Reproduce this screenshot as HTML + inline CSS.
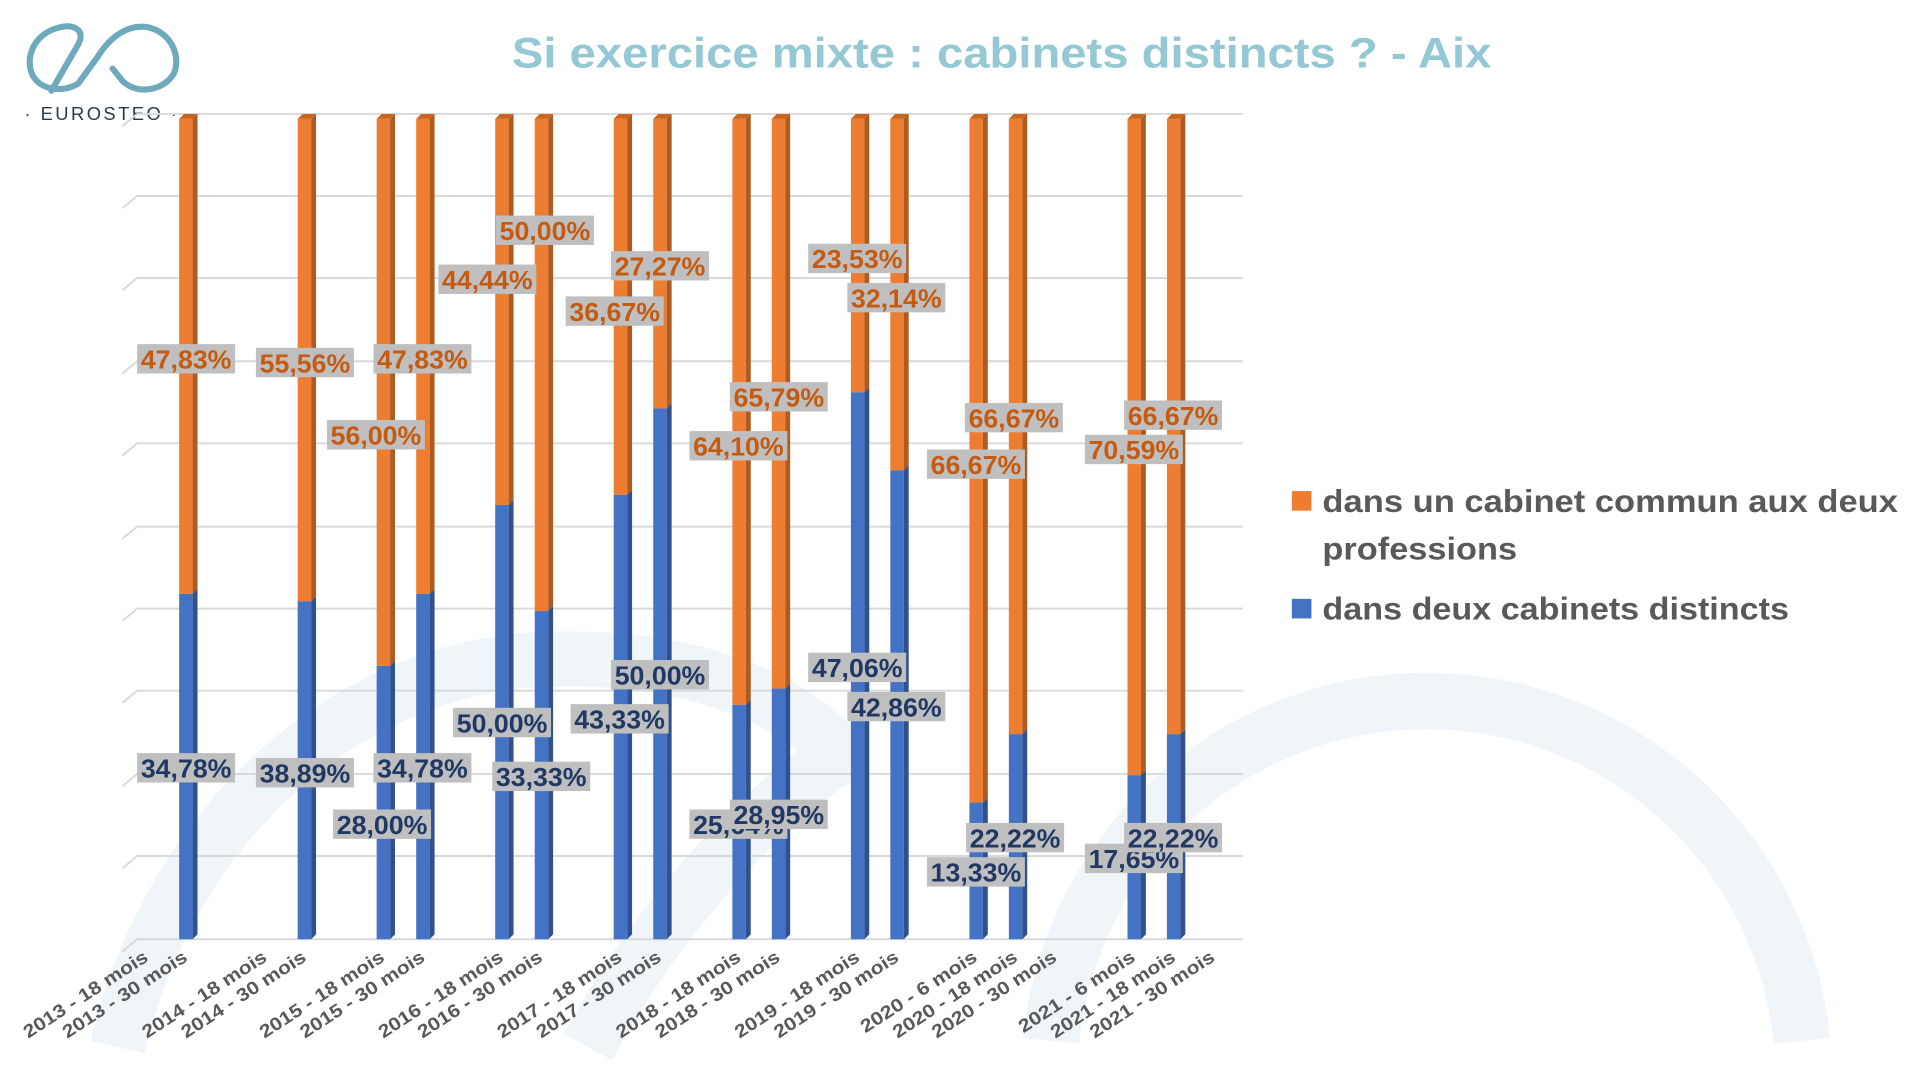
<!DOCTYPE html>
<html><head><meta charset="utf-8"><style>
html,body{margin:0;padding:0;background:#fff;width:1920px;height:1074px;overflow:hidden;}
svg{display:block;overflow:hidden;}
.o{fill:#ed7d31}.os{fill:#ae5a21}.ot{fill:#c9651f}
.b{fill:#4472c4}.bs{fill:#2f528f}
.lb rect{fill:#bfbfbf}
.lb text{font-family:"Liberation Sans",sans-serif;font-weight:bold;font-size:21px;text-anchor:middle}
.lo text{fill:#c55a11}.lbl text{fill:#203864}
.xl{font-family:"Liberation Sans",sans-serif;font-size:15px;fill:#595959;font-weight:bold;text-anchor:end}
.g{stroke:#d9d9d9;stroke-width:1.6;fill:none}
</style></head><body>
<svg width="1920" height="1074" viewBox="0 0 1568 877" xmlns="http://www.w3.org/2000/svg">
<g fill="none" stroke="#f0f5f9">
<path d="M96 855 C135 690 260 560 420 540 C540 530 640 560 690 620" stroke-width="45"/>
<path d="M480 855 C545 735 640 640 700 610" stroke-width="45"/>
<path d="M858.5 850 A308 308 0 0 1 1471.5 850" stroke-width="46"/>
</g>
<g fill="none" stroke="#6ea9bd" stroke-width="5" stroke-linecap="round">
<path d="M42 74 L64 36 C70 24 60 20 50 22 C30 26 20 44 26 60 C32 74 52 76 64 68 L80 46 C90 30 104 20 120 22 C140 26 148 46 142 60 C134 74 112 78 100 66 L92 56"/>
</g>
<text x="20" y="98" font-family="Liberation Sans,sans-serif" font-size="15" fill="#2a3a4a" letter-spacing="2">· EUROSTEO ·</text>
<text x="818" y="55" text-anchor="middle" font-family="Liberation Sans,sans-serif" font-weight="bold" font-size="35" fill="#93c8d4" textLength="800" lengthAdjust="spacingAndGlyphs">Si exercice mixte : cabinets distincts ? - Aix</text>
<g class="g">
<path d="M100 103 L112 93 H1015"/><path d="M100 170 L112 160 H1015"/><path d="M100 237 L112 227 H1015"/><path d="M100 305 L112 295 H1015"/><path d="M100 372 L112 362 H1015"/><path d="M100 440 L112 430 H1015"/><path d="M100 507 L112 497 H1015"/><path d="M100 574 L112 564 H1015"/><path d="M100 642 L112 632 H1015"/><path d="M100 709 L112 699 H1015"/><path d="M100 777 L112 767 H1015"/>
</g>
<g transform="translate(146.3,0)"><rect class="o" y="97" width="11" height="387.9"/><rect class="b" y="484.9" width="11" height="282.1"/><path class="os" d="M11 97L15 93L15 480.9L11 484.9Z"/><path class="bs" d="M11 484.9L15 480.9L15 763L11 767Z"/><path class="ot" d="M0 97L4 93L15 93L11 97Z"/></g>
<g transform="translate(243.1,0)"><rect class="o" y="97" width="11" height="394.1"/><rect class="b" y="491.1" width="11" height="275.9"/><path class="os" d="M11 97L15 93L15 487.1L11 491.1Z"/><path class="bs" d="M11 491.1L15 487.1L15 763L11 767Z"/><path class="ot" d="M0 97L4 93L15 93L11 97Z"/></g>
<g transform="translate(307.6,0)"><rect class="o" y="97" width="11" height="446.7"/><rect class="b" y="543.7" width="11" height="223.3"/><path class="os" d="M11 97L15 93L15 539.7L11 543.7Z"/><path class="bs" d="M11 543.7L15 539.7L15 763L11 767Z"/><path class="ot" d="M0 97L4 93L15 93L11 97Z"/></g>
<g transform="translate(339.9,0)"><rect class="o" y="97" width="11" height="387.9"/><rect class="b" y="484.9" width="11" height="282.1"/><path class="os" d="M11 97L15 93L15 480.9L11 484.9Z"/><path class="bs" d="M11 484.9L15 480.9L15 763L11 767Z"/><path class="ot" d="M0 97L4 93L15 93L11 97Z"/></g>
<g transform="translate(404.4,0)"><rect class="o" y="97" width="11" height="315.3"/><rect class="b" y="412.3" width="11" height="354.7"/><path class="os" d="M11 97L15 93L15 408.3L11 412.3Z"/><path class="bs" d="M11 412.3L15 408.3L15 763L11 767Z"/><path class="ot" d="M0 97L4 93L15 93L11 97Z"/></g>
<g transform="translate(436.7,0)"><rect class="o" y="97" width="11" height="402"/><rect class="b" y="499" width="11" height="268"/><path class="os" d="M11 97L15 93L15 495L11 499Z"/><path class="bs" d="M11 499L15 495L15 763L11 767Z"/><path class="ot" d="M0 97L4 93L15 93L11 97Z"/></g>
<g transform="translate(501.2,0)"><rect class="o" y="97" width="11" height="307.1"/><rect class="b" y="404.1" width="11" height="362.9"/><path class="os" d="M11 97L15 93L15 400.1L11 404.1Z"/><path class="bs" d="M11 404.1L15 400.1L15 763L11 767Z"/><path class="ot" d="M0 97L4 93L15 93L11 97Z"/></g>
<g transform="translate(533.5,0)"><rect class="o" y="97" width="11" height="236.5"/><rect class="b" y="333.5" width="11" height="433.5"/><path class="os" d="M11 97L15 93L15 329.5L11 333.5Z"/><path class="bs" d="M11 333.5L15 329.5L15 763L11 767Z"/><path class="ot" d="M0 97L4 93L15 93L11 97Z"/></g>
<g transform="translate(598.1,0)"><rect class="o" y="97" width="11" height="478.6"/><rect class="b" y="575.6" width="11" height="191.4"/><path class="os" d="M11 97L15 93L15 571.6L11 575.6Z"/><path class="bs" d="M11 575.6L15 571.6L15 763L11 767Z"/><path class="ot" d="M0 97L4 93L15 93L11 97Z"/></g>
<g transform="translate(630.3,0)"><rect class="o" y="97" width="11" height="465.3"/><rect class="b" y="562.3" width="11" height="204.7"/><path class="os" d="M11 97L15 93L15 558.3L11 562.3Z"/><path class="bs" d="M11 562.3L15 558.3L15 763L11 767Z"/><path class="ot" d="M0 97L4 93L15 93L11 97Z"/></g>
<g transform="translate(694.9,0)"><rect class="o" y="97" width="11" height="223.3"/><rect class="b" y="320.3" width="11" height="446.7"/><path class="os" d="M11 97L15 93L15 316.3L11 320.3Z"/><path class="bs" d="M11 320.3L15 316.3L15 763L11 767Z"/><path class="ot" d="M0 97L4 93L15 93L11 97Z"/></g>
<g transform="translate(727.1,0)"><rect class="o" y="97" width="11" height="287.1"/><rect class="b" y="384.1" width="11" height="382.9"/><path class="os" d="M11 97L15 93L15 380.1L11 384.1Z"/><path class="bs" d="M11 384.1L15 380.1L15 763L11 767Z"/><path class="ot" d="M0 97L4 93L15 93L11 97Z"/></g>
<g transform="translate(791.7,0)"><rect class="o" y="97" width="11" height="558.4"/><rect class="b" y="655.4" width="11" height="111.6"/><path class="os" d="M11 97L15 93L15 651.4L11 655.4Z"/><path class="bs" d="M11 655.4L15 651.4L15 763L11 767Z"/><path class="ot" d="M0 97L4 93L15 93L11 97Z"/></g>
<g transform="translate(823.9,0)"><rect class="o" y="97" width="11" height="502.5"/><rect class="b" y="599.5" width="11" height="167.5"/><path class="os" d="M11 97L15 93L15 595.5L11 599.5Z"/><path class="bs" d="M11 599.5L15 595.5L15 763L11 767Z"/><path class="ot" d="M0 97L4 93L15 93L11 97Z"/></g>
<g transform="translate(920.8,0)"><rect class="o" y="97" width="11" height="536"/><rect class="b" y="633" width="11" height="134"/><path class="os" d="M11 97L15 93L15 629L11 633Z"/><path class="bs" d="M11 633L15 629L15 763L11 767Z"/><path class="ot" d="M0 97L4 93L15 93L11 97Z"/></g>
<g transform="translate(953,0)"><rect class="o" y="97" width="11" height="502.5"/><rect class="b" y="599.5" width="11" height="167.5"/><path class="os" d="M11 97L15 93L15 595.5L11 599.5Z"/><path class="bs" d="M11 599.5L15 595.5L15 763L11 767Z"/><path class="ot" d="M0 97L4 93L15 93L11 97Z"/></g>
<g class="lb lo">
<g transform="translate(152,293)"><rect x="-40" y="-12" width="80" height="24"/><text y="8" textLength="74" lengthAdjust="spacingAndGlyphs">47,83%</text></g>
<g transform="translate(249,296)"><rect x="-40" y="-12" width="80" height="24"/><text y="8" textLength="74" lengthAdjust="spacingAndGlyphs">55,56%</text></g>
<g transform="translate(307,355)"><rect x="-40" y="-12" width="80" height="24"/><text y="8" textLength="74" lengthAdjust="spacingAndGlyphs">56,00%</text></g>
<g transform="translate(345,293)"><rect x="-40" y="-12" width="80" height="24"/><text y="8" textLength="74" lengthAdjust="spacingAndGlyphs">47,83%</text></g>
<g transform="translate(398,228)"><rect x="-40" y="-12" width="80" height="24"/><text y="8" textLength="74" lengthAdjust="spacingAndGlyphs">44,44%</text></g>
<g transform="translate(445,188)"><rect x="-40" y="-12" width="80" height="24"/><text y="8" textLength="74" lengthAdjust="spacingAndGlyphs">50,00%</text></g>
<g transform="translate(502,254)"><rect x="-40" y="-12" width="80" height="24"/><text y="8" textLength="74" lengthAdjust="spacingAndGlyphs">36,67%</text></g>
<g transform="translate(539,217)"><rect x="-40" y="-12" width="80" height="24"/><text y="8" textLength="74" lengthAdjust="spacingAndGlyphs">27,27%</text></g>
<g transform="translate(603,364)"><rect x="-40" y="-12" width="80" height="24"/><text y="8" textLength="74" lengthAdjust="spacingAndGlyphs">64,10%</text></g>
<g transform="translate(636,324)"><rect x="-40" y="-12" width="80" height="24"/><text y="8" textLength="74" lengthAdjust="spacingAndGlyphs">65,79%</text></g>
<g transform="translate(700,211)"><rect x="-40" y="-12" width="80" height="24"/><text y="8" textLength="74" lengthAdjust="spacingAndGlyphs">23,53%</text></g>
<g transform="translate(732,243)"><rect x="-40" y="-12" width="80" height="24"/><text y="8" textLength="74" lengthAdjust="spacingAndGlyphs">32,14%</text></g>
<g transform="translate(797,379)"><rect x="-40" y="-12" width="80" height="24"/><text y="8" textLength="74" lengthAdjust="spacingAndGlyphs">66,67%</text></g>
<g transform="translate(828,341)"><rect x="-40" y="-12" width="80" height="24"/><text y="8" textLength="74" lengthAdjust="spacingAndGlyphs">66,67%</text></g>
<g transform="translate(926,367)"><rect x="-40" y="-12" width="80" height="24"/><text y="8" textLength="74" lengthAdjust="spacingAndGlyphs">70,59%</text></g>
<g transform="translate(958,339)"><rect x="-40" y="-12" width="80" height="24"/><text y="8" textLength="74" lengthAdjust="spacingAndGlyphs">66,67%</text></g>
</g>
<g class="lb lbl">
<g transform="translate(152,627)"><rect x="-40" y="-12" width="80" height="24"/><text y="8" textLength="74" lengthAdjust="spacingAndGlyphs">34,78%</text></g>
<g transform="translate(249,631)"><rect x="-40" y="-12" width="80" height="24"/><text y="8" textLength="74" lengthAdjust="spacingAndGlyphs">38,89%</text></g>
<g transform="translate(312,673)"><rect x="-40" y="-12" width="80" height="24"/><text y="8" textLength="74" lengthAdjust="spacingAndGlyphs">28,00%</text></g>
<g transform="translate(345,627)"><rect x="-40" y="-12" width="80" height="24"/><text y="8" textLength="74" lengthAdjust="spacingAndGlyphs">34,78%</text></g>
<g transform="translate(410,590)"><rect x="-40" y="-12" width="80" height="24"/><text y="8" textLength="74" lengthAdjust="spacingAndGlyphs">50,00%</text></g>
<g transform="translate(442,634)"><rect x="-40" y="-12" width="80" height="24"/><text y="8" textLength="74" lengthAdjust="spacingAndGlyphs">33,33%</text></g>
<g transform="translate(506,587)"><rect x="-40" y="-12" width="80" height="24"/><text y="8" textLength="74" lengthAdjust="spacingAndGlyphs">43,33%</text></g>
<g transform="translate(539,551)"><rect x="-40" y="-12" width="80" height="24"/><text y="8" textLength="74" lengthAdjust="spacingAndGlyphs">50,00%</text></g>
<g transform="translate(603,673)"><rect x="-40" y="-12" width="80" height="24"/><text y="8" textLength="74" lengthAdjust="spacingAndGlyphs">25,64%</text></g>
<g transform="translate(636,665)"><rect x="-40" y="-12" width="80" height="24"/><text y="8" textLength="74" lengthAdjust="spacingAndGlyphs">28,95%</text></g>
<g transform="translate(700,545)"><rect x="-40" y="-12" width="80" height="24"/><text y="8" textLength="74" lengthAdjust="spacingAndGlyphs">47,06%</text></g>
<g transform="translate(732,577)"><rect x="-40" y="-12" width="80" height="24"/><text y="8" textLength="74" lengthAdjust="spacingAndGlyphs">42,86%</text></g>
<g transform="translate(926,701)"><rect x="-40" y="-12" width="80" height="24"/><text y="8" textLength="74" lengthAdjust="spacingAndGlyphs">17,65%</text></g>
<g transform="translate(797,712)"><rect x="-40" y="-12" width="80" height="24"/><text y="8" textLength="74" lengthAdjust="spacingAndGlyphs">13,33%</text></g>
<g transform="translate(829,684)"><rect x="-40" y="-12" width="80" height="24"/><text y="8" textLength="74" lengthAdjust="spacingAndGlyphs">22,22%</text></g>
<g transform="translate(958,684)"><rect x="-40" y="-12" width="80" height="24"/><text y="8" textLength="74" lengthAdjust="spacingAndGlyphs">22,22%</text></g>
</g>
<g class="xl">
<text transform="translate(122,784) rotate(-33)" textLength="118" lengthAdjust="spacingAndGlyphs">2013 - 18 mois</text>
<text transform="translate(154,784) rotate(-33)" textLength="118" lengthAdjust="spacingAndGlyphs">2013 - 30 mois</text>
<text transform="translate(219,784) rotate(-33)" textLength="118" lengthAdjust="spacingAndGlyphs">2014 - 18 mois</text>
<text transform="translate(251,784) rotate(-33)" textLength="118" lengthAdjust="spacingAndGlyphs">2014 - 30 mois</text>
<text transform="translate(315,784) rotate(-33)" textLength="118" lengthAdjust="spacingAndGlyphs">2015 - 18 mois</text>
<text transform="translate(348,784) rotate(-33)" textLength="118" lengthAdjust="spacingAndGlyphs">2015 - 30 mois</text>
<text transform="translate(412,784) rotate(-33)" textLength="118" lengthAdjust="spacingAndGlyphs">2016 - 18 mois</text>
<text transform="translate(444,784) rotate(-33)" textLength="118" lengthAdjust="spacingAndGlyphs">2016 - 30 mois</text>
<text transform="translate(509,784) rotate(-33)" textLength="118" lengthAdjust="spacingAndGlyphs">2017 - 18 mois</text>
<text transform="translate(541,784) rotate(-33)" textLength="118" lengthAdjust="spacingAndGlyphs">2017 - 30 mois</text>
<text transform="translate(606,784) rotate(-33)" textLength="118" lengthAdjust="spacingAndGlyphs">2018 - 18 mois</text>
<text transform="translate(638,784) rotate(-33)" textLength="118" lengthAdjust="spacingAndGlyphs">2018 - 30 mois</text>
<text transform="translate(703,784) rotate(-33)" textLength="118" lengthAdjust="spacingAndGlyphs">2019 - 18 mois</text>
<text transform="translate(735,784) rotate(-33)" textLength="118" lengthAdjust="spacingAndGlyphs">2019 - 30 mois</text>
<text transform="translate(799,784) rotate(-33)" textLength="110" lengthAdjust="spacingAndGlyphs">2020 - 6 mois</text>
<text transform="translate(832,784) rotate(-33)" textLength="118" lengthAdjust="spacingAndGlyphs">2020 - 18 mois</text>
<text transform="translate(864,784) rotate(-33)" textLength="118" lengthAdjust="spacingAndGlyphs">2020 - 30 mois</text>
<text transform="translate(928,784) rotate(-33)" textLength="110" lengthAdjust="spacingAndGlyphs">2021 - 6 mois</text>
<text transform="translate(961,784) rotate(-33)" textLength="118" lengthAdjust="spacingAndGlyphs">2021 - 18 mois</text>
<text transform="translate(993,784) rotate(-33)" textLength="118" lengthAdjust="spacingAndGlyphs">2021 - 30 mois</text>
</g>
<rect x="1055" y="401" width="16" height="16" fill="#ed7d31"/>
<rect x="1055" y="489" width="16" height="16" fill="#4472c4"/>
<g font-family="Liberation Sans,sans-serif" font-weight="bold" font-size="26" fill="#595959">
<text x="1080" y="418" textLength="470" lengthAdjust="spacingAndGlyphs">dans un cabinet commun aux deux</text>
<text x="1080" y="457" textLength="159" lengthAdjust="spacingAndGlyphs">professions</text>
<text x="1080" y="506" textLength="381" lengthAdjust="spacingAndGlyphs">dans deux cabinets distincts</text>
</g>
</svg>
</body></html>
